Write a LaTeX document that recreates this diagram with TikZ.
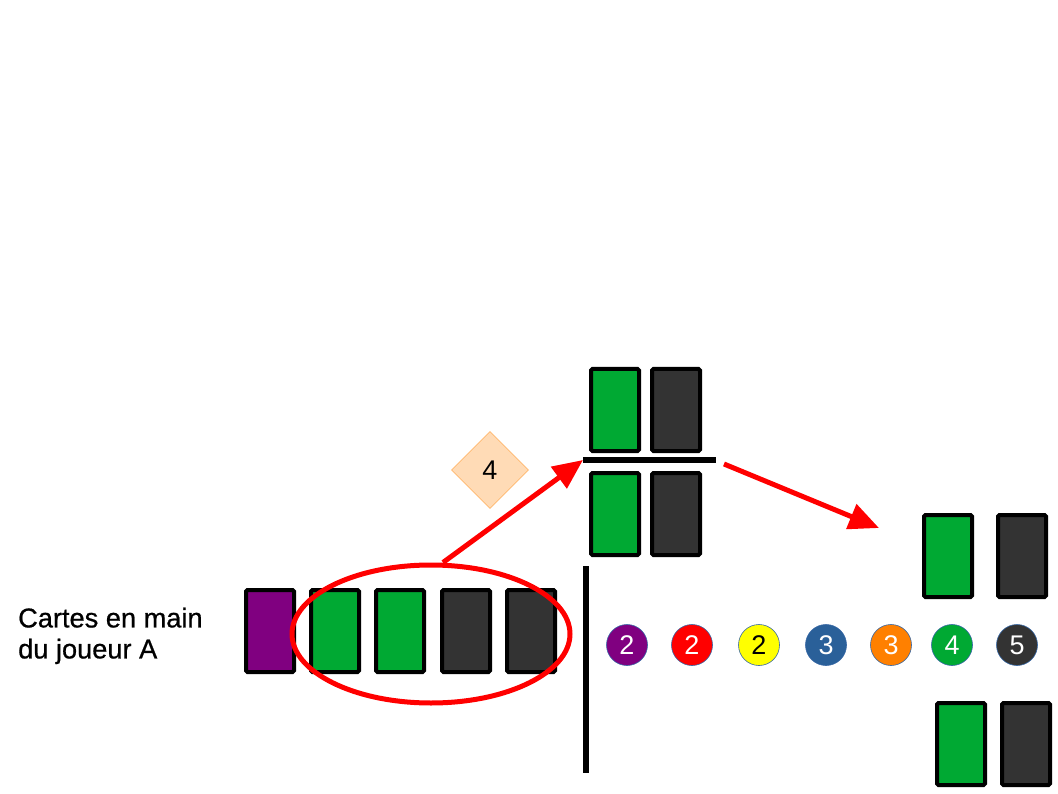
\documentclass[tikz,border=0pt]{standalone}
\usepackage{fontspec}
\setmainfont{Liberation Sans}
\newfontfamily\labfont[FakeBold=0.7]{Liberation Sans}
\usetikzlibrary{shapes.geometric,arrows.meta}
\definecolor{cgreen}{HTML}{00A933}
\definecolor{cdark}{HTML}{333333}
\definecolor{cpurple}{HTML}{800080}
\definecolor{cblue}{HTML}{2A6099}
\definecolor{corange}{HTML}{FF8000}
\definecolor{cyellow}{HTML}{FFFF00}
\definecolor{cred}{HTML}{FF0000}
\definecolor{cring}{HTML}{3465A4}
\definecolor{peach}{HTML}{FFDBB6}
\definecolor{peachline}{HTML}{FFB66C}
\begin{document}
\begin{tikzpicture}[x=1pt,y=-1pt,
  card/.style={draw=black,line width=4pt,rounded corners=1.5pt,minimum width=48pt,minimum height=82pt,inner sep=0pt},
  chip/.style={circle,draw=cring,line width=0.6pt,minimum size=41pt,inner sep=0pt,font=\fontsize{27}{28}\selectfont,text=white},
  redarrow/.style={draw=cred,line width=5pt,-{Triangle[length=30pt,width=26pt]}},
  bar/.style={line width=5.5pt}]
\useasboundingbox (0,0) rectangle (1058,794);
% label
\node[anchor=north west,align=left,inner sep=0pt,font=\labfont\fontsize{27.2}{31}\selectfont] (lab) at (18,607.5) {Cartes en main\\du joueur A};
% hand
\node[card,fill=cpurple] (h1) at (270,631) {};
\node[card,fill=cgreen] (h2) at (335,631) {};
\node[card,fill=cgreen] (h3) at (400,631) {};
\node[card,fill=cdark] (h4) at (466,631) {};
\node[card,fill=cdark] (h5) at (531,631) {};
\node[ellipse,draw=cred,line width=5pt,minimum width=278pt,minimum height=138pt] (ell) at (431,634) {};
% separator
\coordinate (vt) at (586,566);
\coordinate (vb) at (586,773);
\draw[bar] (vt) -- (vb);
% top stack
\node[card,fill=cgreen] (t1) at (615,410) {};
\node[card,fill=cdark] (t2) at (676,410) {};
\coordinate (hl) at (583,460);
\coordinate (hr) at (716,460);
\draw[bar] (hl) -- (hr);
\node[card,fill=cgreen] (b1) at (615,514) {};
\node[card,fill=cdark] (b2) at (676,514) {};
% diamond
\node[diamond,fill=peach,draw=peachline,line width=0.8pt,minimum size=77pt,inner sep=0pt,font=\fontsize{27}{28}\selectfont] (dia) at (490,470) {4};
% arrows
\draw[redarrow] (ell.north) ++(12,0) coordinate (a1s) -- (hl);
\coordinate (a2s) at (724,464);
\coordinate (a2e) at (879,528);
\draw[redarrow] (a2s) -- (a2e);
% right cards
\node[card,fill=cgreen] (r1) at (948,556) {};
\node[card,fill=cdark] (r2) at (1022,556) {};
\node[card,fill=cgreen] (r3) at (961,744) {};
\node[card,fill=cdark] (r4) at (1026,744) {};
% chips
\node[chip,fill=cpurple] (c1) at (627,645) {2};
\node[chip,fill=cred] (c2) at (692,645) {2};
\node[chip,fill=cyellow,text=black] (c3) at (759,645) {2};
\node[chip,fill=cblue] (c4) at (826,645) {3};
\node[chip,fill=corange] (c5) at (891,645) {3};
\node[chip,fill=cgreen] (c6) at (952,645) {4};
\node[chip,fill=cdark] (c7) at (1017,645) {5};
\end{tikzpicture}
\end{document}
